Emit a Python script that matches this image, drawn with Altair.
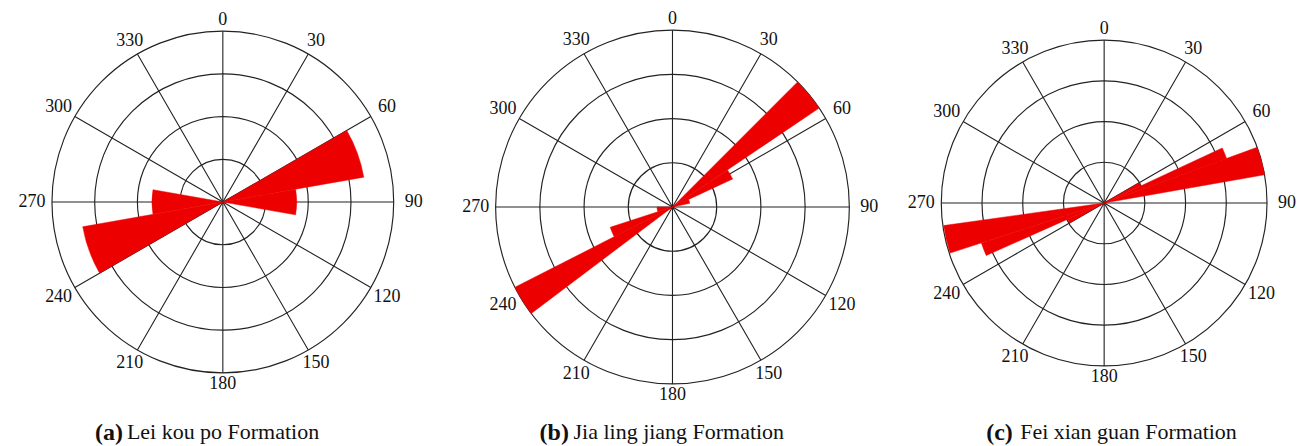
import math
import altair as alt
import pandas as pd

# ---------------- data ----------------
RING_VALUES = [1, 2, 3, 4]
SPOKE_ANGLES = [0, 30, 60, 90, 120, 150, 180, 210, 240, 270, 300, 330]
SPOKE_LABELS = ["0", "30", "60", "90", "120", "150", "180", "210", "240", "270", "300", "330"]

# (a) Lei kou po Formation : petal start / end azimuth (deg) and length (ring units)
A_START = [60, 80, 240, 260]
A_END = [80, 100, 260, 280]
A_VALUE = [3.35, 1.73, 3.33, 1.66]

# (b) Jia ling jiang Formation
B_START = [45, 56, 65, 233, 243, 252]
B_END = [56, 65, 78, 243, 252, 270]
B_VALUE = [4.0, 1.5, 0.4, 4.0, 1.48, 0.35]

# (c) Fei xian guan Formation
C_START = [60, 65, 70, 240, 246, 252]
C_END = [65, 70, 80, 246, 252, 262]
C_VALUE = [1.0, 3.2, 4.0, 0.98, 3.17, 3.98]

TAGS = ["(a)", "(b)", "(c)"]
NAMES = ["Lei kou po Formation", "Jia ling jiang Formation", "Fei xian guan Formation"]

FONT = "Liberation Serif"
RED = "#ec0000"
GRID = "#222222"


def panel(start, end, value, R, W, H, tag, name, tag_x, name_x):
    rscale = alt.Scale(type="linear", domain=[0, 4], range=[0, R], zero=True)
    tscale = alt.Scale(domain=[0, 360], range=[0, 2 * math.pi])

    rings = alt.Chart(pd.DataFrame({
        "r": RING_VALUES, "t0": [0] * len(RING_VALUES), "t1": [360] * len(RING_VALUES)
    })).mark_arc(filled=False, stroke=GRID, color=GRID, strokeWidth=1.15).encode(
        theta=alt.Theta("t0:Q", scale=tscale, stack=False),
        theta2="t1",
        radius=alt.Radius("r:Q", scale=rscale),
    )

    spokes = alt.Chart(pd.DataFrame({
        "a": SPOKE_ANGLES, "r": [max(RING_VALUES)] * len(SPOKE_ANGLES)
    })).mark_arc(filled=False, stroke=GRID, color=GRID, strokeWidth=1.1).encode(
        theta=alt.Theta("a:Q", scale=tscale, stack=False),
        theta2="a",
        radius=alt.Radius("r:Q", scale=rscale),
    )

    petals = alt.Chart(pd.DataFrame({
        "s": start, "e": end, "v": value
    })).mark_arc(color=RED, stroke=RED, strokeWidth=0.5).encode(
        theta=alt.Theta("s:Q", scale=tscale, stack=False),
        theta2="e",
        radius=alt.Radius("v:Q", scale=rscale),
    )

    labels = alt.Chart(pd.DataFrame({
        "a": SPOKE_ANGLES, "lab": SPOKE_LABELS
    })).transform_calculate(
        lr=f"{R} + 11 + 9 * abs(sin(datum.a * PI / 180))"
    ).mark_text(font=FONT, fontSize=18, color="#111", align="center", baseline="middle").encode(
        theta=alt.Theta("a:Q", scale=tscale, stack=False),
        radius=alt.Radius("lr:Q", scale=None),
        text="lab:N",
    )

    cap_tag = alt.Chart(pd.DataFrame({"t": [tag]})).mark_text(
        font=FONT, fontSize=24, fontWeight="bold", color="#111", align="left", baseline="alphabetic"
    ).encode(text="t:N", x=alt.value(tag_x), y=alt.value(432))

    cap_name = alt.Chart(pd.DataFrame({"t": [name]})).mark_text(
        font=FONT, fontSize=22, color="#111", align="left", baseline="alphabetic"
    ).encode(text="t:N", x=alt.value(name_x), y=alt.value(431))

    return alt.layer(rings, spokes, petals, labels, cap_tag, cap_name).properties(width=W, height=H)


pa = panel(A_START, A_END, A_VALUE, 171, 430, 388, TAGS[0], NAMES[0], 87, 119)
pb = panel(B_START, B_END, B_VALUE, 177, 470, 398, TAGS[1], NAMES[1], 102, 136)
pc = panel(C_START, C_END, C_VALUE, 163, 390, 390, TAGS[2], NAMES[2], 77, 111)

chart = alt.hconcat(pa, pb, pc, spacing=0).properties(padding=0).configure_view(stroke=None)

chart.save("out.html", embed_options={"renderer": "svg", "actions": False})
